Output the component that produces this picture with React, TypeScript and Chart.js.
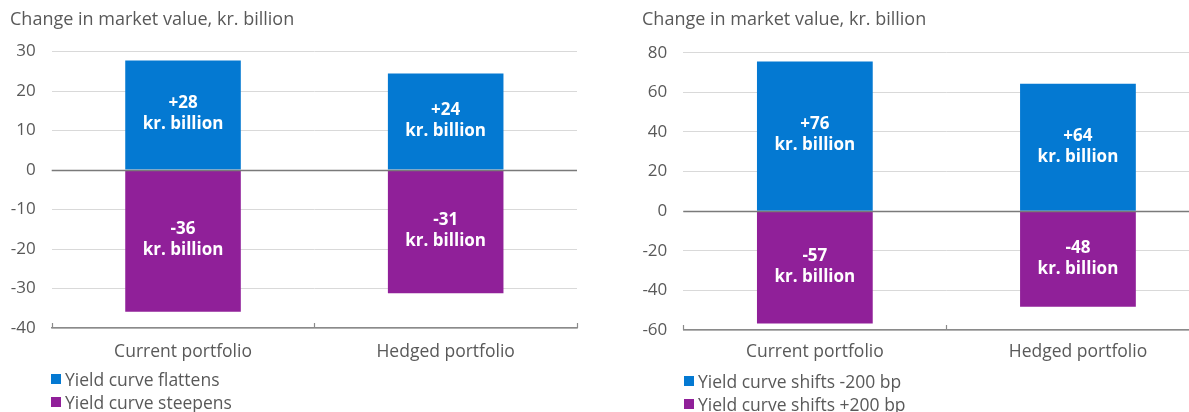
import React, { useEffect, useRef } from "react";
import { Chart, registerables } from "chart.js";

Chart.register(...registerables);

// ---------- DATA ----------
const categories = ["Current portfolio", "Hedged portfolio"];
const axisTitle = "Change in market value, kr. billion";
const unitLabel = "kr. billion";

const leftSeriesNames = ["Yield curve flattens", "Yield curve steepens"];
const leftFlattens = [27.7, 24.4];
const leftSteepens = [-35.9, -31.2];
const leftTicks = [-40, -30, -20, -10, 0, 10, 20, 30];

const rightSeriesNames = ["Yield curve shifts -200 bp", "Yield curve shifts +200 bp"];
const rightMinus200 = [75.6, 64.3];
const rightPlus200 = [-56.7, -48.3];
const rightTicks = [-60, -40, -20, 0, 20, 40, 60, 80];

// ---------- STYLE ----------
const BLUE = "#0479D2";
const PURPLE = "#902099";
const TEXT = "#595959";
const GRID = "#d9d9d9";
const AXIS = "#8a8a8a";
const FONT = "'Open Sans', 'Noto Sans', sans-serif";
const TITLE_SIZE = 18;
const TEXT_SIZE = 17.5;
const TICK_SIZE = 17;

type Layout = {
  canvasW: number;
  canvasH: number;
  padLeft: number;
  padRight: number;
  padBottom: number;
  yAxisWidth: number;
  titlePadBottom: number;
  xTickPad: number;
};

const barLabelPlugin = {
  id: "barLabels",
  afterDatasetsDraw(chart: any) {
    const ctx = chart.ctx;
    ctx.save();
    ctx.fillStyle = "#ffffff";
    ctx.font = `bold 17px ${FONT}`;
    ctx.textAlign = "center";
    ctx.textBaseline = "middle";
    chart.data.datasets.forEach((ds: any, di: number) => {
      const meta = chart.getDatasetMeta(di);
      meta.data.forEach((bar: any, i: number) => {
        const v = ds.data[i] as number;
        const { x, y, base } = bar.getProps(["x", "y", "base"], true);
        const cy = (y + base) / 2 - 1;
        const txt = (v > 0 ? "+" : "") + Math.round(v);
        ctx.fillText(txt, x, cy - 10.5);
        ctx.fillText(unitLabel, x, cy + 10.5);
      });
    });
    ctx.restore();
  },
};

const axisDecorPlugin = {
  id: "axisDecor",
  afterDatasetsDraw(chart: any) {
    const ctx = chart.ctx;
    const xs = chart.scales.x;
    const ys = chart.scales.y;
    ctx.save();
    // zero line on top of bars
    const y0 = Math.round(ys.getPixelForValue(0)) + 0.5;
    ctx.strokeStyle = "#7a7a7a";
    ctx.lineWidth = 1.3;
    ctx.beginPath();
    ctx.moveTo(xs.left, y0);
    ctx.lineTo(xs.right, y0);
    ctx.stroke();
    // inward category boundary ticks
    const n = chart.data.labels.length;
    const yb = xs.top;
    ctx.strokeStyle = AXIS;
    ctx.lineWidth = 1.2;
    for (let i = 0; i <= n; i++) {
      let x = xs.left + (i * (xs.right - xs.left)) / n;
      x = Math.round(x) + 0.5;
      ctx.beginPath();
      ctx.moveTo(x, yb - 5);
      ctx.lineTo(x, yb);
      ctx.stroke();
    }
    ctx.restore();
  },
};

function BarChart(props: {
  seriesNames: string[];
  pos: number[];
  neg: number[];
  ticks: number[];
  layout: Layout;
}) {
  const ref = useRef<HTMLCanvasElement | null>(null);
  const { seriesNames, pos, neg, ticks, layout } = props;

  useEffect(() => {
    if (!ref.current) return;
    const chart = new Chart(ref.current, {
      type: "bar",
      data: {
        labels: categories,
        datasets: [
          {
            label: seriesNames[0],
            data: pos,
            backgroundColor: BLUE,
            borderWidth: 0,
            barPercentage: 0.44,
            categoryPercentage: 1,
          },
          {
            label: seriesNames[1],
            data: neg,
            backgroundColor: PURPLE,
            borderWidth: 0,
            barPercentage: 0.44,
            categoryPercentage: 1,
          },
        ],
      },
      options: {
        responsive: false,
        animation: false,
        devicePixelRatio: 1,
        layout: {
          padding: {
            left: layout.padLeft,
            right: layout.padRight,
            top: 0,
            bottom: layout.padBottom,
          },
        },
        plugins: {
          legend: { display: false },
          tooltip: { enabled: false },
          title: {
            display: true,
            text: axisTitle,
            align: "start",
            color: TEXT,
            font: { family: FONT, size: TITLE_SIZE, weight: "normal", lineHeight: 1.2 },
            padding: { top: 9.2, bottom: layout.titlePadBottom },
          },
        },
        scales: {
          x: {
            stacked: true,
            grid: { display: true, drawOnChartArea: false, drawTicks: false },
            border: { display: true, color: AXIS, width: 1.5, z: 1 },
            ticks: {
              color: TEXT,
              padding: layout.xTickPad,
              font: { family: FONT, size: TEXT_SIZE, lineHeight: 1.2 },
            },
          },
          y: {
            stacked: true,
            min: ticks[0],
            max: ticks[ticks.length - 1],
            afterFit: (scale: any) => {
              scale.width = layout.yAxisWidth;
            },
            afterBuildTicks: (scale: any) => {
              scale.ticks = ticks.map((v) => ({ value: v }));
            },
            grid: {
              color: GRID,
              lineWidth: 1,
              drawTicks: false,
            },
            border: { display: false },
            ticks: {
              color: TEXT,
              padding: 16,
              font: { family: FONT, size: TICK_SIZE, lineHeight: 1.2 },
            },
          },
        },
      },
      plugins: [axisDecorPlugin, barLabelPlugin],
    } as any);
    return () => chart.destroy();
  }, []);

  return (
    <canvas
      ref={ref}
      width={layout.canvasW}
      height={layout.canvasH}
      style={{ display: "block", width: layout.canvasW, height: layout.canvasH }}
    />
  );
}

function Legend(props: { names: string[]; colors: string[]; left: number; top: number }) {
  return (
    <div style={{ position: "absolute", left: props.left, top: props.top }}>
      {props.names.map((n, i) => (
        <div
          key={n}
          style={{
            display: "flex",
            alignItems: "center",
            height: 23,
            fontFamily: FONT,
            fontSize: TEXT_SIZE,
            color: TEXT,
            whiteSpace: "nowrap",
          }}
        >
          <span
            style={{
              display: "inline-block",
              width: 10,
              height: 10,
              background: props.colors[i],
              marginRight: 4,
            }}
          />
          <span>{n}</span>
        </div>
      ))}
    </div>
  );
}

export default function App() {
  const leftLayout: Layout = {
    canvasW: 600,
    canvasH: 412,
    padLeft: 10,
    padRight: 23,
    padBottom: 36.6,
    yAxisWidth: 41.7,
    titlePadBottom: 20.7,
    xTickPad: 13.2,
  };
  const rightLayout: Layout = {
    canvasW: 630,
    canvasH: 412,
    padLeft: 42,
    padRight: 20.5,
    padBottom: 38.6,
    yAxisWidth: 41.3,
    titlePadBottom: 21.9,
    xTickPad: 11.2,
  };
  return (
    <div
      style={{
        position: "fixed",
        left: 0,
        top: 0,
        width: 1189,
        height: 412,
        overflow: "hidden",
        background: "#ffffff",
      }}
    >
      <div style={{ position: "absolute", left: 0, top: 0, width: 600, height: 412 }}>
        <BarChart
          seriesNames={leftSeriesNames}
          pos={leftFlattens}
          neg={leftSteepens}
          ticks={leftTicks}
          layout={leftLayout}
        />
        <Legend names={leftSeriesNames} colors={[BLUE, PURPLE]} left={51} top={367.5} />
      </div>
      <div
        style={{
          position: "absolute",
          left: 600,
          top: 0,
          width: 589,
          height: 412,
          overflow: "hidden",
        }}
      >
        <BarChart
          seriesNames={rightSeriesNames}
          pos={rightMinus200}
          neg={rightPlus200}
          ticks={rightTicks}
          layout={rightLayout}
        />
        <Legend names={rightSeriesNames} colors={[BLUE, PURPLE]} left={84} top={369.5} />
      </div>
    </div>
  );
}
